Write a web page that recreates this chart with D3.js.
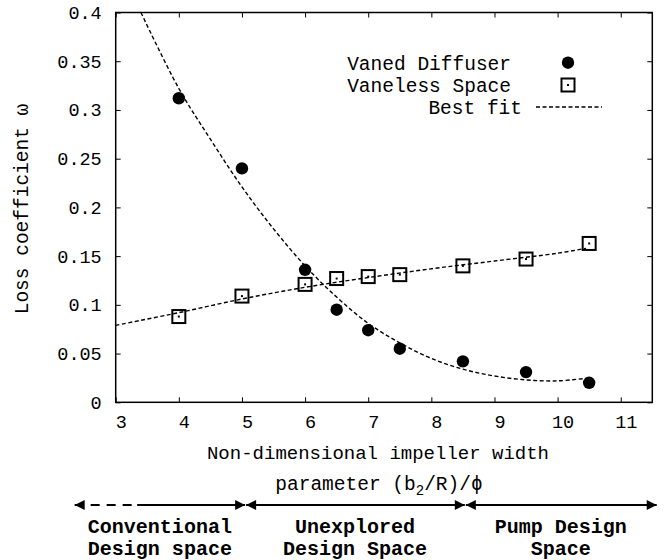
<!DOCTYPE html>
<html>
<head>
<meta charset="utf-8">
<script src="https://cdn.jsdelivr.net/npm/d3@7"></script>
<style>
  body { margin: 0; background: #fff; }
  text { font-family: "Liberation Mono", "Courier New", monospace; fill: #000; }
  .axis path, .axis line { stroke: #000; }
  .fit { fill: none; stroke: #000; stroke-width: 1.4; stroke-dasharray: 4,2.5; }
</style>
</head>
<body>
<script>
// measured data
var xVals        = [4, 5, 6, 6.5, 7, 7.5, 8.5, 9.5, 10.5];
var vanedDiff    = [0.312, 0.240, 0.136, 0.095, 0.074, 0.055, 0.042, 0.031, 0.020];
var vanelessSp   = [0.088, 0.109, 0.121, 0.127, 0.129, 0.131, 0.140, 0.147, 0.163];

// best fit curves
var vanedFitX    = [3.4, 4, 4.5, 5, 5.5, 6, 6.5, 7, 7.5, 8, 8.5, 9, 9.5, 10, 10.5];
var vanedFitY    = [0.400, 0.322, 0.270, 0.221, 0.178, 0.140, 0.108, 0.081, 0.061, 0.045, 0.034, 0.027, 0.023, 0.022, 0.025];
var vanelessFitX = [3, 4, 5, 6, 7, 8, 9, 10, 10.45];
var vanelessFitY = [0.079, 0.092, 0.106, 0.118, 0.128, 0.137, 0.145, 0.153, 0.158];

var xTicks       = [3, 4, 5, 6, 7, 8, 9, 10, 11];
var yTicks       = [0, 0.05, 0.1, 0.15, 0.2, 0.25, 0.3, 0.35, 0.4];
var yTickLabels  = ['0', '0.05', '0.1', '0.15', '0.2', '0.25', '0.3', '0.35', '0.4'];

var regionNames  = [['Conventional', 'Design space'], ['Unexplored', 'Design Space'], ['Pump Design', 'Space']];
var regionBounds = [[2.35, 5.05], [5.05, 8.53], [8.53, 11.57]];

var svgWidth = 664, svgHeight = 560,
    plotLeft = 115.7, plotRight = 652.3, plotTop = 12.5, plotBottom = 402.3;

var x = d3.scaleLinear().domain([3, 11.5]).range([plotLeft, plotRight]);
var y = d3.scaleLinear().domain([0, 0.4]).range([plotBottom, plotTop]);

var svg = d3.select('body').append('svg')
  .attr('width', svgWidth)
  .attr('height', svgHeight);

svg.append('defs').append('clipPath').attr('id', 'plot-clip')
  .append('rect')
    .attr('x', plotLeft).attr('y', plotTop)
    .attr('width', plotRight - plotLeft).attr('height', plotBottom - plotTop);

// axes, ticks pointing inward, mirrored on top/right
var xAxis = d3.axisBottom(x).tickValues(xTicks).tickSizeInner(-5).tickSizeOuter(0).tickPadding(12),
    yAxis = d3.axisLeft(y).tickValues(yTicks).tickSizeInner(-5).tickSizeOuter(0).tickPadding(14)
              .tickFormat(function (d, i) { return yTickLabels[i]; });

var gx = svg.append('g').attr('class', 'axis')
  .attr('transform', 'translate(0,' + plotBottom + ')')
  .call(xAxis);
gx.selectAll('text').attr('font-size', 18.5).attr('dx', 5).attr('dy', '0.75em');

var gy = svg.append('g').attr('class', 'axis')
  .attr('transform', 'translate(' + plotLeft + ',0)')
  .call(yAxis);
gy.selectAll('text').attr('font-size', 18.5);

svg.append('g').attr('class', 'axis')
  .attr('transform', 'translate(0,' + plotTop + ')')
  .call(d3.axisTop(x).tickValues(xTicks).tickSizeInner(-5).tickSizeOuter(0).tickFormat(''));
svg.append('g').attr('class', 'axis')
  .attr('transform', 'translate(' + plotRight + ',0)')
  .call(d3.axisRight(y).tickValues(yTicks).tickSizeInner(-5).tickSizeOuter(0).tickFormat(''));

svg.selectAll('.axis path.domain').remove();

svg.append('rect')
  .attr('x', plotLeft).attr('y', plotTop)
  .attr('width', plotRight - plotLeft).attr('height', plotBottom - plotTop)
  .attr('fill', 'none').attr('stroke', '#000').attr('stroke-width', 1.5);

// fit lines
var fitLine = d3.line()
  .x(function (d) { return x(d[0]); })
  .y(function (d) { return y(d[1]); })
  .curve(d3.curveCatmullRom);

svg.append('path').attr('class', 'fit')
  .attr('clip-path', 'url(#plot-clip)')
  .attr('d', fitLine(d3.zip(vanedFitX, vanedFitY)));
svg.append('path').attr('class', 'fit')
  .attr('clip-path', 'url(#plot-clip)')
  .attr('d', fitLine(d3.zip(vanelessFitX, vanelessFitY)));

// markers
function drawSquare (g, cx, cy) {
  g.append('rect')
    .attr('x', cx - 6.5).attr('y', cy - 6.5)
    .attr('width', 13).attr('height', 13)
    .attr('fill', 'none').attr('stroke', '#000').attr('stroke-width', 2);
  g.append('rect')
    .attr('x', cx - 1).attr('y', cy - 1)
    .attr('width', 2).attr('height', 2)
    .attr('fill', '#000');
}

var pts = svg.append('g');
xVals.forEach(function (xv, i) {
  pts.append('circle')
    .attr('cx', x(xv)).attr('cy', y(vanedDiff[i])).attr('r', 6.2)
    .attr('fill', '#000');
  drawSquare(pts, x(xv), y(vanelessSp[i]));
});

// legend
var legend = svg.append('g').attr('font-size', 19.5);
legend.append('text').attr('x', 511).attr('y', 63).attr('dy', '0.35em')
  .attr('text-anchor', 'end').attr('font-size', 19.5).text('Vaned Diffuser');
legend.append('circle').attr('cx', 568).attr('cy', 62.7).attr('r', 6.2).attr('fill', '#000');
legend.append('text').attr('x', 511).attr('y', 85).attr('dy', '0.35em')
  .attr('text-anchor', 'end').attr('font-size', 19.5).text('Vaneless Space');
drawSquare(legend, 568, 85);
legend.append('text').attr('x', 522).attr('y', 107).attr('dy', '0.35em')
  .attr('text-anchor', 'end').attr('font-size', 19.5).text('Best fit');
legend.append('line').attr('class', 'fit')
  .attr('x1', 536).attr('x2', 602).attr('y1', 107).attr('y2', 107);

// axis titles
svg.append('text')
  .attr('transform', 'translate(28,209) rotate(-90)')
  .attr('text-anchor', 'middle').attr('font-size', 19.5)
  .text('Loss coefficient ω');

svg.append('text')
  .attr('x', 378).attr('y', 452).attr('dy', '0.35em')
  .attr('text-anchor', 'middle').attr('font-size', 19)
  .text('Non-dimensional impeller width');

var param = svg.append('text')
  .attr('x', 379).attr('y', 483).attr('dy', '0.35em')
  .attr('text-anchor', 'middle').attr('font-size', 19.5);
param.append('tspan').text('parameter (b');
param.append('tspan').attr('dy', 5).attr('font-size', 14).text('2');
param.append('tspan').attr('dy', -5).text('/R)/ϕ');

// design-space arrows
var arrowY = 505;
svg.append('defs').selectAll('marker')
  .data(['start', 'end'])
  .enter().append('marker')
    .attr('id', function (d) { return 'head-' + d; })
    .attr('viewBox', '0 0 10 10')
    .attr('refX', 10).attr('refY', 5)
    .attr('markerUnits', 'userSpaceOnUse')
    .attr('markerWidth', 12).attr('markerHeight', 10)
    .attr('orient', function (d) { return d === 'end' ? 'auto' : 'auto-start-reverse'; })
  .append('path')
    .attr('d', 'M0,0 L10,5 L0,10 Z')
    .attr('fill', '#000');

var arrows = svg.append('g').attr('stroke', '#000').attr('stroke-width', 1.8);
// first region: dashed start, solid end
var r0 = regionBounds[0], dashEnd = 3.34;
arrows.append('line')
  .attr('x1', x(r0[0])).attr('x2', x(dashEnd))
  .attr('y1', arrowY).attr('y2', arrowY)
  .attr('stroke-dasharray', '9,7')
  .attr('marker-start', 'url(#head-start)');
arrows.append('line')
  .attr('x1', x(dashEnd)).attr('x2', x(r0[1]))
  .attr('y1', arrowY).attr('y2', arrowY)
  .attr('marker-end', 'url(#head-end)');
regionBounds.slice(1).forEach(function (b) {
  arrows.append('line')
    .attr('x1', x(b[0]) + 1).attr('x2', x(b[1]))
    .attr('y1', arrowY).attr('y2', arrowY)
    .attr('marker-start', 'url(#head-start)')
    .attr('marker-end', 'url(#head-end)');
});

regionNames.forEach(function (names, i) {
  var cx = x((regionBounds[i][0] + regionBounds[i][1]) / 2);
  names.forEach(function (n, j) {
    svg.append('text')
      .attr('x', cx).attr('y', 526 + j * 22).attr('dy', '0.35em')
      .attr('text-anchor', 'middle').attr('font-size', 20).attr('font-weight', 'bold')
      .text(n);
  });
});
</script>
</body>
</html>
